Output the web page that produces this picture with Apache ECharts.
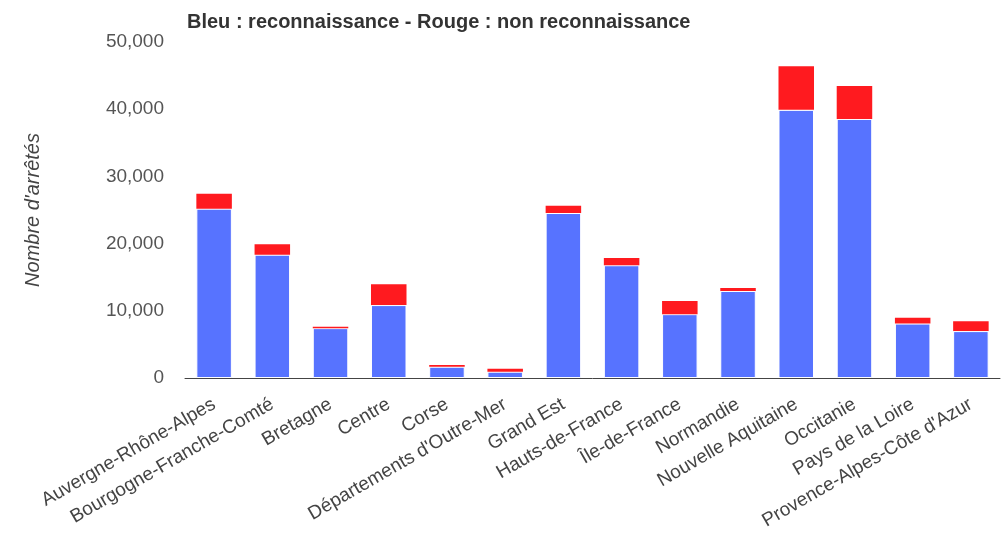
<!DOCTYPE html>
<html>
<head>
<meta charset="utf-8">
<script src="https://cdn.jsdelivr.net/npm/echarts@6/dist/echarts.min.js"></script>
<style>
  html, body { margin: 0; padding: 0; background: #fff; }
  #chart { width: 1005px; height: 534px; }
</style>
</head>
<body>
<div id="chart"></div>
<script>
const regions = [
  'Auvergne-Rhône-Alpes', 'Bourgogne-Franche-Comté', 'Bretagne', 'Centre', 'Corse',
  "Départements d'Outre-Mer", 'Grand Est', 'Hauts-de-France', 'Île-de-France', 'Normandie',
  'Nouvelle Aquitaine', 'Occitanie', 'Pays de la Loire', "Provence-Alpes-Côte d'Azur"
]
// reconnaissance (bleu)
const reconnaissance = [25200, 18350, 7420, 10850, 1680, 940, 24550, 16780, 9500, 12950, 39900, 38550, 8100, 6980]
// non reconnaissance (rouge)
const nonReconnaissance = [2200, 1550, 220, 3100, 250, 440, 1080, 1070, 1970, 450, 6500, 4920, 850, 1480]

const myChart = echarts.init(document.getElementById('chart'))
myChart.setOption({
  animation: false,
  textStyle: { fontFamily: 'Liberation Sans, Arial, sans-serif' },
  title: {
    text: 'Bleu : reconnaissance - Rouge : non reconnaissance',
    left: 182,
    top: 7,
    textStyle: { fontSize: 20, fontWeight: 'bold', color: '#333' }
  },
  grid: { left: 185, right: 5, top: 42, bottom: 156 },
  xAxis: {
    type: 'category',
    data: regions,
    axisTick: { show: false },
    axisLine: { lineStyle: { color: '#444', width: 1 } },
    axisLabel: {
      interval: 0,
      rotate: 30,
      fontSize: 19,
      color: '#444',
      margin: 25
    }
  },
  yAxis: {
    type: 'value',
    min: 0,
    max: 50000,
    interval: 10000,
    name: "Nombre d'arrêtés",
    nameLocation: 'middle',
    nameGap: 142,
    nameTextStyle: { fontSize: 20, fontStyle: 'italic', color: '#444' },
    splitLine: { show: false },
    axisLine: { show: false },
    axisTick: { show: false },
    axisLabel: {
      fontSize: 19,
      color: '#555',
      margin: 21,
      formatter: v => v.toLocaleString('en-US')
    }
  },
  series: [
    {
      name: 'reconnaissance',
      type: 'bar',
      stack: 'total',
      data: reconnaissance,
      barCategoryGap: '39%',
      itemStyle: { color: '#5773ff', borderColor: '#fff', borderWidth: 1 }
    },
    {
      name: 'non reconnaissance',
      type: 'bar',
      stack: 'total',
      data: nonReconnaissance,
      itemStyle: { color: '#ff1a1f' }
    }
  ]
})
</script>
</body>
</html>
